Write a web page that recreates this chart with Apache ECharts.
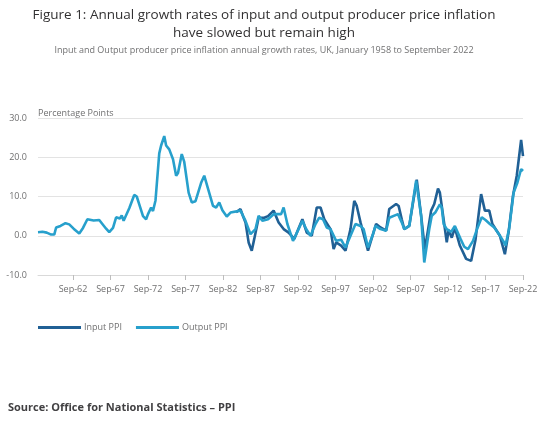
<!DOCTYPE html>
<html><head><meta charset="utf-8">
<script src="https://cdn.jsdelivr.net/npm/echarts@6/dist/echarts.min.js"></script>
<style>html,body{margin:0;padding:0;background:#fff}#c{width:550px;height:430px}</style>
</head><body><div id="c"></div>
<script>
const titleText = 'Figure 1: Annual growth rates of input and output producer price inflation\nhave slowed but remain high';
const subtitleText = 'Input and Output producer price inflation annual growth rates, UK, January 1958 to September 2022';
const sourceText = 'Source: Office for National Statistics \u2013 PPI';
const yTicks = [-10, 0, 10, 20, 30];
const seriesNames = ['Input PPI', 'Output PPI'];

// monthly categories Jan 1958 .. Sep 2022
const months = [];
for (let y = 1958; y <= 2022; y++) {
  for (let m = 1; m <= 12; m++) {
    if (y === 2022 && m > 9) break;
    months.push(y + '-' + String(m).padStart(2, '0'));
  }
}

const inputPPI = [
['1984-06',6.0],['1985-01',6.8],['1985-05',5.0],['1985-09',3.4],['1986-02',-1.7],['1986-07',-3.8],
['1986-11',-0.8],['1987-06',4.6],['1988-03',4.6],['1988-09',5.0],['1989-06',6.4],['1990-02',3.4],
['1990-10',1.7],['1991-06',0.8],['1992-03',-0.8],['1993-04',4.2],['1993-11',0.8],['1994-07',0.0],
['1995-03',7.2],['1995-09',7.2],['1996-03',4.2],['1997-01',1.7],['1997-06',-3.4],['1997-10',-1.7],
['1998-06',-2.5],['1999-01',-3.8],['1999-09',1.7],['2000-03',8.9],['2000-07',7.6],['2001-01',3.4],
['2002-01',-3.8],['2002-09',0.4],['2003-02',3.0],['2003-09',2.1],['2004-06',1.3],['2004-11',6.8],
['2005-10',8.1],['2006-02',7.6],['2006-07',4.2],['2006-11',1.7],['2007-07',2.5],['2008-07',14.3],
['2009-02',5.1],['2009-08',-3.5],['2010-06',6.4],['2010-11',8.1],['2011-05',12.0],['2011-08',11.0],
['2012-03',3.0],['2012-07',-1.7],['2012-10',1.5],['2013-03',-0.5],['2013-08',2.0],['2014-04',-2.5],
['2015-02',-5.9],['2015-10',-6.4],['2016-05',-1.0],['2017-02',10.6],['2017-08',6.4],['2018-03',6.4],
['2018-08',3.0],['2019-08',0.0],['2020-04',-4.7],['2020-10',1.0],['2021-05',10.2],['2021-11',15.3],
['2022-06',24.4],['2022-09',20.3]
];

const outputPPI = [
['1958-01',0.9],['1958-08',1.0],['1959-03',0.8],['1959-06',0.6],['1959-10',0.3],['1960-03',0.3],
['1960-06',2.1],['1961-01',2.5],['1961-09',3.2],['1962-03',2.9],['1962-10',1.8],['1963-07',0.6],
['1964-01',2.0],['1964-08',4.2],['1965-06',3.9],['1966-03',4.0],['1966-08',3.0],['1967-02',1.8],
['1967-07',0.9],['1968-01',2.0],['1968-06',4.7],['1968-12',4.4],['1969-03',5.2],['1969-06',3.8],
['1969-09',4.2],['1970-03',7.0],['1970-11',10.4],['1971-03',10.0],['1971-07',8.0],['1972-01',5.0],
['1972-06',4.2],['1972-09',5.5],['1973-02',7.2],['1973-05',6.3],['1973-09',9.0],['1974-03',21.0],
['1974-06',23.0],['1974-11',25.4],['1975-02',23.0],['1975-07',22.0],['1976-01',19.5],['1976-06',15.3],
['1976-09',16.0],['1977-03',20.8],['1977-07',18.8],['1978-02',11.0],['1978-07',8.5],['1979-01',8.8],
['1979-10',13.5],['1980-03',15.3],['1980-09',12.0],['1981-05',7.6],['1981-10',7.2],['1982-03',8.5],
['1982-08',6.5],['1983-03',4.9],['1983-09',5.9],['1985-01',6.4],['1985-09',3.8],['1986-05',0.4],
['1987-01',1.7],['1987-06',5.1],['1987-12',3.8],['1988-09',4.2],['1989-06',5.5],['1990-06',5.5],
['1990-10',7.2],['1991-04',3.0],['1992-01',-1.3],['1992-05',0.0],['1993-04',3.8],['1993-10',1.7],
['1994-05',0.0],['1995-01',3.0],['1995-07',4.6],['1996-01',4.2],['1996-07',2.1],['1997-01',1.7],
['1997-10',-1.3],['1998-06',-1.0],['1999-01',-3.0],['1999-09',0.0],['2000-05',3.0],['2001-01',2.5],
['2001-06',1.7],['2002-01',-3.0],['2002-09',0.4],['2003-01',2.5],['2003-09',1.7],['2004-06',1.3],
['2004-11',4.6],['2006-01',5.5],['2006-07',3.4],['2006-11',1.7],['2007-07',2.5],['2008-06',14.0],
['2009-02',5.1],['2009-07',-6.8],['2010-03',1.7],['2010-07',5.1],['2011-01',6.0],['2011-08',8.0],
['2011-11',7.2],['2012-02',3.0],['2012-07',1.7],['2013-02',1.0],['2013-08',2.5],['2014-05',-0.8],
['2014-11',-2.8],['2015-05',-3.4],['2016-01',-1.3],['2016-07',1.5],['2017-03',4.7],['2017-09',4.0],
['2018-04',3.0],['2018-11',2.1],['2019-06',0.5],['2020-02',-1.5],['2020-05',-2.5],['2020-11',2.0],
['2021-06',11.0],['2021-12',13.5],['2022-06',17.0],['2022-09',16.5]
];

const firstLabel = months.indexOf('1962-09');
const showIdx = (i) => i >= firstLabel && (i - firstLabel) % 60 === 0;
const FONT = 'Open Sans';

const chart = echarts.init(document.getElementById('c'), null, {renderer: 'canvas'});
chart.setOption({
  animation: false,
  backgroundColor: '#fff',
  color: ['#206095', '#27a0cc'],
  title: {
    text: titleText,
    subtext: subtitleText,
    left: 259, textAlign: 'center', top: 1, itemGap: 4,
    textStyle: {fontFamily: FONT, fontSize: 13.5, fontWeight: 'normal', color: '#323132', lineHeight: 18},
    subtextStyle: {fontFamily: FONT, fontSize: 9, color: '#707071'}
  },
  legend: {
    left: 33, top: 318, icon: 'rect', itemWidth: 43, itemHeight: 3, itemGap: 14,
    textStyle: {fontFamily: FONT, fontSize: 9, color: '#707071', padding: [0, 0, 0, -2]},
    data: seriesNames
  },
  grid: {left: 38, right: 27, top: 118, bottom: 155, containLabel: false},
  xAxis: {
    type: 'category', data: months, boundaryGap: false,
    axisLine: {onZero: false, lineStyle: {color: '#d9d9d9'}},
    axisTick: {show: true, interval: showIdx, length: 5, lineStyle: {color: '#bdbdbd'}},
    axisLabel: {interval: showIdx, formatter: (v) => 'Sep-' + v.slice(2, 4),
      fontFamily: FONT, fontSize: 9, color: '#707071', margin: 10},
    splitLine: {show: false}
  },
  yAxis: {
    type: 'value', min: yTicks[0], max: yTicks[yTicks.length - 1], interval: 10,
    name: 'Percentage Points', nameLocation: 'end', nameGap: 0,
    nameTextStyle: {fontFamily: FONT, fontSize: 9, color: '#707071', align: 'left', verticalAlign: 'bottom'},
    axisLine: {show: false}, axisTick: {show: false},
    axisLabel: {formatter: (v) => v.toFixed(1), fontFamily: FONT, fontSize: 9, color: '#707071', margin: 11},
    splitLine: {lineStyle: {color: '#e3e3e3'}}
  },
  series: [
    {name: seriesNames[0], type: 'line', data: inputPPI, showSymbol: false, lineStyle: {width: 2.6, color: '#206095'}, itemStyle: {color: '#206095'}},
    {name: seriesNames[1], type: 'line', data: outputPPI, showSymbol: false, lineStyle: {width: 2.6, color: '#27a0cc'}, itemStyle: {color: '#27a0cc'}}
  ],
  graphic: [{
    type: 'text', left: 8, top: 402,
    style: {text: sourceText, font: 'bold 11px "Open Sans"', fill: '#414042'}
  }]
});
</script></body></html>
